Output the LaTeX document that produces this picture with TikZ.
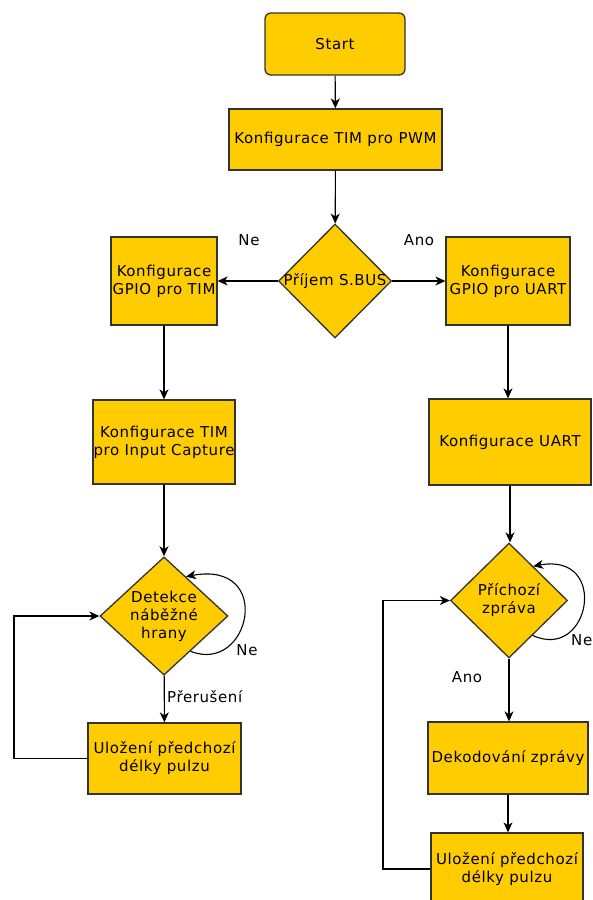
\documentclass[tikz,border=0pt]{standalone}
\usepackage{fontspec}
\setmainfont{DejaVu Sans}[LetterSpace=4]
\usetikzlibrary{shapes.geometric,arrows.meta,calc}
\definecolor{boxfill}{HTML}{FFCC00}
\definecolor{boxline}{HTML}{333333}
\begin{document}
\begin{tikzpicture}[x=1pt,y=-1pt,
  every node/.style={font=\fontsize{15}{18}\selectfont},
  stepbox/.style={draw=boxline,line width=1.3pt,fill=boxfill,inner sep=0pt,align=center},
  startbox/.style={stepbox,rounded corners=6pt},
  decision/.style={draw=boxline,line width=1.3pt,fill=boxfill,diamond,inner sep=0pt,align=center},
  conn/.style={line width=1.1pt,-{Stealth[length=10pt,width=9pt,inset=3pt]}},
  lbl/.style={inner sep=0pt}]
\useasboundingbox (0,0) rectangle (593,900);
\node[startbox,minimum width=140pt,minimum height=62pt] (start) at (335,44) {Start};
\node[stepbox,minimum width=213pt,minimum height=61pt] (pwm) at (335.5,139.5) {Konfigurace TIM pro PWM};
\node[decision,inner sep=-4pt,minimum width=113pt,minimum height=114pt] (sbus) at (335,281) {Příjem S.BUS};
\node[stepbox,minimum width=106pt,minimum height=88pt] (gtim) at (164,281) {Konfigurace\\GPIO pro TIM};
\node[stepbox,minimum width=124pt,minimum height=88pt] (guart) at (508,281) {Konfigurace\\GPIO pro UART};
\node[stepbox,minimum width=142pt,minimum height=84pt] (tic) at (164,442) {Konfigurace TIM\\pro Input Capture};
\node[stepbox,minimum width=162pt,minimum height=86pt] (uart) at (510,442) {Konfigurace UART};
\node[decision,minimum width=128pt,minimum height=114pt] (det) at (164,616) {Detekce\\náběžné\\hrany};
\node[decision,minimum width=117pt,minimum height=115pt] (pri) at (509,600.5) {Příchozí\\zpráva};
\node[stepbox,minimum width=153pt,minimum height=71pt] (ulo1) at (164.5,758.5) {Uložení předchozí\\délky pulzu};
\node[stepbox,minimum width=160pt,minimum height=72pt] (dek) at (508,758) {Dekodování zprávy};
\node[stepbox,minimum width=152pt,minimum height=72pt] (ulo2) at (507,869) {Uložení předchozí\\délky pulzu};
\coordinate (lc) at (14,0);
\coordinate (rc) at (383,0);
% connectors
\draw[conn] (start) -- (pwm);
\draw[conn] (pwm) -- (sbus);
\draw[conn] (sbus) -- (gtim);
\draw[conn] (sbus) -- (guart);
\draw[conn] (gtim) -- (tic);
\draw[conn] (guart.south) -- (guart.south |- uart.north);
\draw[conn] (tic) -- (det);
\draw[conn] (uart.south) -- (uart.south |- pri.north);
\draw[conn] (det) -- (ulo1);
\draw[conn] (pri.south) -- (pri.south |- dek.north);
\draw[conn] (dek.south) -- (dek.south |- ulo2.north);
\draw[conn] (ulo1.west) -- (ulo1.west -| lc) -- (det.west -| lc) -- (det.west);
\draw[conn] (ulo2.west) -- (ulo2.west -| rc) -- (pri.west -| rc) -- (pri.west);
% self loops
\draw[conn] ($(det.east)!0.59!(det.south)$) .. controls (250,675) and (275,560) .. ($(det.north)!0.34!(det.east)$);
\draw[conn] ($(pri.east)!0.6!(pri.south)$) .. controls (590,662) and (610,552) .. ($(pri.north)!0.41!(pri.east)$);
% labels
\node[lbl] (ne1) at (249,240) {Ne};
\node[lbl] (ano1) at (419,240) {Ano};
\node[lbl] (ne2) at (247,650) {Ne};
\node[lbl,anchor=west] (ne3) at (571,640) {Ne};
\node[lbl,anchor=west] (prer) at (167,697) {Přerušení};
\node[lbl] (ano2) at (467,677) {Ano};
\end{tikzpicture}
\end{document}
